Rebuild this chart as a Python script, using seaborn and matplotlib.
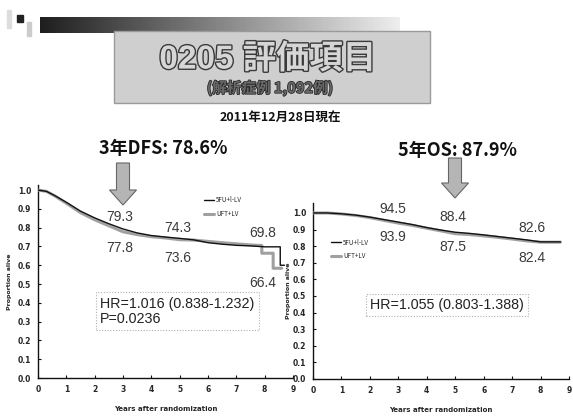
import numpy as np
import pandas as pd
import matplotlib
matplotlib.use("Agg")
import matplotlib.pyplot as plt
import matplotlib.patheffects as pe
from matplotlib.patches import Rectangle, FancyArrow
import seaborn as sns

sns.set_theme(style="white")
plt.rcParams["font.family"] = ["Noto Sans CJK JP", "DejaVu Sans"]

# ---- survival data (years, proportion); repeated times mark vertical drops ----
dfs_t_5fu = [0, 0.3, 0.6, 1.0, 1.5, 2.0, 2.5, 3.0, 3.5, 4.0, 4.5, 5.0, 5.5, 6.0, 6.5,
             7.0, 7.5, 8.0, 8.55, 8.55, 8.7]
dfs_s_5fu = [1.0, 0.993, 0.970, 0.935, 0.888, 0.852, 0.821, 0.793, 0.772, 0.758, 0.750, 0.743,
             0.735, 0.720, 0.712, 0.706, 0.703, 0.698, 0.698, 0.600, 0.600]
dfs_t_uft = [0, 0.3, 0.6, 1.0, 1.5, 2.0, 2.5, 3.0, 3.5, 4.0, 4.5, 5.0, 5.5, 6.0, 6.5,
             7.0, 7.5, 7.9, 7.9, 8.3, 8.3, 8.6]
dfs_s_uft = [1.0, 0.993, 0.968, 0.930, 0.880, 0.842, 0.810, 0.778, 0.763, 0.752, 0.745, 0.736,
             0.734, 0.727, 0.720, 0.714, 0.708, 0.705, 0.664, 0.664, 0.584, 0.584]

os_t = [0, 0.5, 1.0, 1.5, 2.0, 2.5, 3.0, 3.5, 4.0, 4.5, 5.0, 5.5, 6.0, 6.5, 7.0, 7.5, 8.0, 8.7]
os_s_5fu = [1.0, 1.0, 0.995, 0.987, 0.975, 0.960, 0.945, 0.930, 0.912, 0.897, 0.884, 0.877, 0.868,
            0.858, 0.848, 0.838, 0.826, 0.826]
os_s_uft = [1.0, 1.0, 0.994, 0.985, 0.972, 0.955, 0.939, 0.925, 0.908, 0.892, 0.875, 0.870, 0.862,
            0.853, 0.843, 0.832, 0.824, 0.824]

# landmark rates printed on the curves (%), at 3, 5 and 8 years
dfs_rate_5fu = [79.3, 74.3, 69.8]
dfs_rate_uft = [77.8, 73.6, 66.4]
os_rate_5fu = [94.5, 88.4, 82.6]
os_rate_uft = [93.9, 87.5, 82.4]

series_names = ["5FU+l-LV", "UFT+LV"]
x_ticks = list(range(0, 10))
y_ticks = [round(0.1 * i, 1) for i in range(11)]

W, H = 573, 418
fig = plt.figure(figsize=(W / 100, H / 100), dpi=100)
fig.patch.set_facecolor("white")

bg = fig.add_axes([0, 0, 1, 1])
bg.set_xlim(0, W)
bg.set_ylim(H, 0)
bg.axis("off")

# header bar with gradient
grad = np.linspace(0.12, 0.93, 256)[None, :]
bg.imshow(grad, cmap="gray", vmin=0, vmax=1, extent=(40, 400, 33, 17), aspect="auto", zorder=1)
bg.add_patch(Rectangle((17, 15), 6, 7, color="#222222", zorder=2))
bg.add_patch(Rectangle((7, 10), 4, 18, color="#dddddd", zorder=2))
bg.add_patch(Rectangle((27, 22), 4, 14, color="#cccccc", zorder=2))

# title box
bg.add_patch(Rectangle((114, 31), 316, 72, facecolor="#cfcfcf", edgecolor="#9a9a9a", lw=1, zorder=1))
bg.text(268, 60, "0205 評価項目", ha="center", va="center", fontsize=24, fontweight="bold",
        family=["Liberation Sans", "Noto Sans CJK JP"],
        color="#d6d6d6", zorder=3,
        path_effects=[pe.withStroke(linewidth=2.0, foreground="#3a3a3a")])
bg.text(270, 88, "(解析症例 1,092例)", ha="center", va="center", fontsize=10.5, fontweight="bold",
        color="#6a6a6a", zorder=3,
        path_effects=[pe.withStroke(linewidth=1.2, foreground="#2a2a2a")])
bg.text(280, 117, "2011年12月28日現在", ha="center", va="center", fontsize=9, fontweight="bold",
        color="#111111")

bg.text(163, 148, "3年DFS: 78.6%", ha="center", va="center", fontsize=13, fontweight="bold",
        color="#111111")
bg.text(458, 150, "5年OS: 87.9%", ha="center", va="center", fontsize=13, fontweight="bold",
        color="#111111")

# down arrows
for cx, top, tip in [(123, 163, 205), (455, 158, 198)]:
    bg.add_patch(FancyArrow(cx, top, 0, tip - top, width=13, head_width=27, head_length=15,
                            length_includes_head=True, facecolor="#b5b5b5",
                            edgecolor="#666666", lw=0.8, zorder=4))

narrow = ["Liberation Sans Narrow", "DejaVu Sans"]
tick_font = dict(family=narrow, fontsize=5.5, fontweight="bold")
num_font = dict(family=["Liberation Sans", "DejaVu Sans"], fontsize=10, color="#3a3a3a")


def make_axes(x0, x9, y0, ytop):
    ax = fig.add_axes([x0 / W, 1 - y0 / H, (x9 - x0) / W, (y0 - ytop) / H])
    ax.set_facecolor("none")
    return ax


def style_axes(ax, ymax, ylabelpad):
    ax.set_xlim(0, 9)
    ax.set_ylim(0, ymax)
    for s in ["top", "right"]:
        ax.spines[s].set_visible(False)
    for s in ["left", "bottom"]:
        ax.spines[s].set_color("#111111")
        ax.spines[s].set_linewidth(1.0)
    ax.set_xticks(x_ticks)
    ax.set_yticks(y_ticks)
    ax.set_xticklabels([str(t) for t in x_ticks], **tick_font)
    ax.set_yticklabels([f"{t:.1f}" for t in y_ticks], **tick_font)
    ax.tick_params(axis="both", direction="in", length=2.5, width=0.8, color="#111111",
                   left=True, bottom=True, pad=5)
    ax.set_xlabel("Years after randomization", fontsize=5, fontweight="bold",
                  family=narrow, labelpad=9)
    ax.set_ylabel("Proportion alive", fontsize=4.5, fontweight="bold",
                  family=narrow, labelpad=ylabelpad)


def draw_curves(ax, t1, s1, t2, s2):
    d1 = pd.DataFrame({"t": t1, "s": s1})
    d2 = pd.DataFrame({"t": t2, "s": s2})
    sns.lineplot(data=d2, x="t", y="s", ax=ax, color="#a0a0a0", lw=2.2, sort=False,
                 estimator=None, label=series_names[1], zorder=3)
    sns.lineplot(data=d1, x="t", y="s", ax=ax, color="#111111", lw=1.0, sort=False,
                 estimator=None, label=series_names[0], zorder=4)


def add_legend(ax, anchor):
    h, l = ax.get_legend_handles_labels()
    ax.legend([h[1], h[0]], [l[1], l[0]], loc="upper left", bbox_to_anchor=anchor,
              frameon=False, fontsize=4.5, handlelength=1.6, handletextpad=0.3, labelspacing=0.9)


# ---- DFS panel ----
ax1 = make_axes(38, 293, 378, 185)
draw_curves(ax1, dfs_t_5fu, dfs_s_5fu, dfs_t_uft, dfs_s_uft)
style_axes(ax1, 1.027, 4)
add_legend(ax1, (0.63, 0.97))
dfs_pos = [(2.9, 0.856, 0.69), (4.94, 0.80, 0.64), (7.94, 0.77, 0.505)]
for (xp, yu, yl), a, b in zip(dfs_pos, dfs_rate_5fu, dfs_rate_uft):
    ax1.text(xp, yu, f"{a:.1f}", ha="center", va="center", **num_font)
    ax1.text(xp, yl, f"{b:.1f}", ha="center", va="center", **num_font)
ax1.text(2.2, 0.355, "HR=1.016 (0.838-1.232)\nP=0.0236", ha="left", va="center",
         fontsize=10.3, family=["Liberation Sans", "DejaVu Sans"], color="#222222", linespacing=1.1,
         bbox=dict(boxstyle="square,pad=0.3", fc="white", ec="#b0b0b0", ls=(0, (1, 1.5)), lw=0.8))

# ---- OS panel ----
ax2 = make_axes(313, 569, 379, 203)
draw_curves(ax2, os_t, os_s_5fu, os_t, os_s_uft)
style_axes(ax2, 1.06, 1)
add_legend(ax2, (0.05, 0.83))
os_pos = [(2.82, 1.024, 0.855), (4.93, 0.976, 0.795), (7.71, 0.91, 0.729)]
for (xp, yu, yl), a, b in zip(os_pos, os_rate_5fu, os_rate_uft):
    ax2.text(xp, yu, f"{a:.1f}", ha="center", va="center", **num_font)
    ax2.text(xp, yl, f"{b:.1f}", ha="center", va="center", **num_font)
ax2.text(2.0, 0.446, "HR=1.055 (0.803-1.388)", ha="left", va="center",
         fontsize=10.3, family=["Liberation Sans", "DejaVu Sans"], color="#222222",
         bbox=dict(boxstyle="square,pad=0.3", fc="white", ec="#b0b0b0", ls=(0, (1, 1.5)), lw=0.8))

fig.savefig("out.png", dpi=100, facecolor="white")
